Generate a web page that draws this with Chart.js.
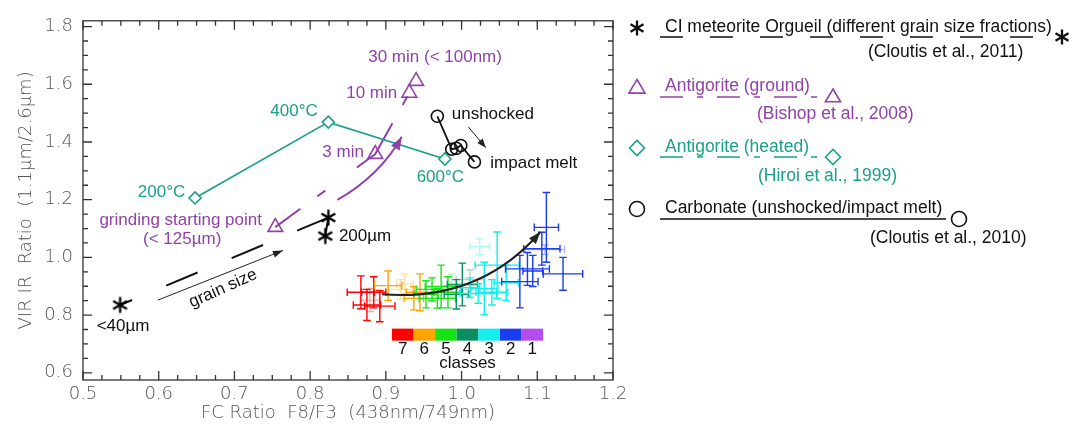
<!DOCTYPE html>
<html><head><meta charset="utf-8">
<script src="https://cdn.jsdelivr.net/npm/chart.js@4.4.1/dist/chart.umd.min.js"></script>
<style>html,body{margin:0;padding:0;background:#fff;}#wrap{width:1084px;height:425px;position:relative;}</style>
</head><body><div id="wrap"><canvas id="c" width="1084" height="425"></canvas></div>
<script>
// ---------- tick labels ----------
const xTicks = [0.5, 0.6, 0.7, 0.8, 0.9, 1.0, 1.1, 1.2];
const yTicks = [0.6, 0.8, 1.0, 1.2, 1.4, 1.6, 1.8];
// ---------- CI meteorite Orgueil (grain size fractions) ----------
const orgueilX = [0.549, 0.824, 0.820];
const orgueilY = [0.835, 1.138, 1.074];
// ---------- Antigorite (heated) ----------
const heatedX = [0.648, 0.824, 0.978];
const heatedY = [1.206, 1.469, 1.341];
// ---------- Antigorite (ground) ----------
const groundX = [0.754, 0.886, 0.931, 0.940];
const groundY = [1.105, 1.358, 1.570, 1.611];
// ---------- Carbonate (unshocked -> impact melt) ----------
const carbX = [0.968, 0.987, 0.993, 0.999, 1.017];
const carbY = [1.489, 1.375, 1.378, 1.388, 1.331];
// ---------- class cluster (values with x / y errors) ----------
const clsX    = [0.867,0.875,0.884,0.892,0.879, 0.903,0.919,0.945,0.937,0.925, 0.953,0.961,0.973,0.982,0.968,0.987, 1.001,0.993,1.011, 1.047,1.030,1.040,1.022,1.059,1.024,1.011, 1.112,1.106,1.134,1.077,1.087,1.094,1.110];
const clsY    = [0.879,0.835,0.879,0.831,0.852, 0.902,0.889,0.879,0.858,0.908, 0.872,0.889,0.899,0.879,0.858,0.902, 0.906,0.872,0.923, 0.973,0.892,0.879,0.875,0.912,1.037,0.895, 1.104,1.030,0.943,0.916,0.960,0.953,1.027];
const clsXErr = [0.018,0.018,0.016,0.020,0.013, 0.018,0.016,0.018,0.013,0.011, 0.016,0.021,0.021,0.018,0.024,0.013, 0.020,0.016,0.018, 0.029,0.018,0.021,0.024,0.016,0.013,0.013, 0.016,0.024,0.026,0.024,0.029,0.013,0.026];
const clsYErr = [0.057,0.054,0.054,0.054,0.040, 0.051,0.034,0.064,0.040,0.034, 0.047,0.040,0.074,0.054,0.034,0.040, 0.074,0.051,0.034, 0.115,0.091,0.044,0.034,0.061,0.027,0.034, 0.121,0.057,0.057,0.091,0.057,0.054,0.017];
const clsClass= [7,7,7,7,7, 6,6,6,6,6, 5,5,5,5,5,5, 4,4,4, 3,3,3,3,3,3,3, 2,2,2,2,2,2,2];
const clsFaded= [0,0,0,0,1, 0,1,0,0,1, 0,0,0,0,0,1, 0,0,1, 0,0,0,0,0,1,0, 0,0,0,0,0,0,1];
const classNames = ['7','6','5','4','3','2','1'];

// ---------- styles ----------
const TEAL = '#19a08c', PURPLE = '#9142aa', BLACK = '#111';
const CLASS_COLORS = {7:'#ff0000',6:'#ffa500',5:'#14e414',4:'#0b8f62',3:'#14eeee',2:'#1a3cf2',1:'#b44cf0'};
const SANS = '"Liberation Sans", Arial, sans-serif';
const AXF = '"DejaVu Sans", sans-serif';

function makeStar(r, lw, color) {
  const s = Math.ceil(2 * r + lw + 2);
  const c = document.createElement('canvas'); c.width = s; c.height = s;
  const g = c.getContext('2d'); g.strokeStyle = color; g.lineWidth = lw; g.translate(s / 2, s / 2);
  for (const a of [90, 30, 150]) {
    const t = a * Math.PI / 180;
    g.beginPath(); g.moveTo(-r * Math.cos(t), -r * Math.sin(t)); g.lineTo(r * Math.cos(t), r * Math.sin(t)); g.stroke();
  }
  return c;
}
const starImg = makeStar(8, 2.3, '#000');

function pts(xs, ys) { return xs.map((x, i) => ({x, y: ys[i]})); }

function arrowHead(ctx, x, y, ang, len, wid, color) {
  ctx.save(); ctx.translate(x, y); ctx.rotate(ang);
  ctx.beginPath(); ctx.moveTo(0, 0); ctx.lineTo(-len, -wid / 2); ctx.lineTo(-len, wid / 2); ctx.closePath();
  ctx.fillStyle = color; ctx.fill(); ctx.restore();
}

// annotations in data coordinates
const labels = [
  {t:'30 min (< 100nm)', x:0.965, y:1.692, a:'center', c:PURPLE},
  {t:'10 min', x:0.915, y:1.570, a:'right', c:PURPLE},
  {t:'3 min', x:0.871, y:1.364, a:'right', c:PURPLE},
  {t:'400°C', x:0.810, y:1.506, a:'right', c:TEAL},
  {t:'200°C', x:0.635, y:1.226, a:'right', c:TEAL},
  {t:'600°C', x:0.972, y:1.277, a:'center', c:TEAL},
  {t:'grinding starting point', x:0.629, y:1.128, a:'center', c:PURPLE},
  {t:'(< 125µm)', x:0.631, y:1.064, a:'center', c:PURPLE},
  {t:'unshocked', x:0.987, y:1.496, a:'left', c:BLACK},
  {t:'impact melt', x:1.038, y:1.327, a:'left', c:BLACK},
  {t:'<40µm', x:0.518, y:0.761, a:'left', c:BLACK},
  {t:'200µm', x:0.838, y:1.074, a:'left', c:BLACK},
  {t:'grain size', x:0.685, y:0.892, a:'center', c:BLACK, rot:-24}
];
const grainArrow = {x0:0.599, y0:0.852, x1:0.764, y1:1.024};
const carbArrow = {x0:1.009, y0:1.452, x1:1.032, y1:1.380};
const grindCurve = {x0:0.836, y0:1.199, cx:0.892, cy:1.283, x1:0.921, y1:1.418};
const clusterCurve = {x0:0.895, y0:0.872, cx:1.024, cy:0.845, x1:1.104, y1:1.088};
const colorBar = {x:0.908, y:0.753};

const framePlugin = {
  id: 'frame',
  afterDraw(chart) {
    const {ctx, chartArea: a, scales: {x, y}} = chart;
    ctx.save();
    ctx.strokeStyle = '#333'; ctx.lineWidth = 1.3;
    ctx.strokeRect(a.left, a.top, a.right - a.left, a.bottom - a.top);
    ctx.beginPath();
    for (let i = 0; i <= 28; i++) {
      const v = 0.5 + i * 0.025, px = x.getPixelForValue(v), L = (i % 4 === 0) ? 9 : 5;
      ctx.moveTo(px, a.bottom); ctx.lineTo(px, a.bottom - L);
      ctx.moveTo(px, a.top); ctx.lineTo(px, a.top + L);
    }
    for (let i = 0; i <= 24; i++) {
      const v = 0.6 + i * 0.05, py = y.getPixelForValue(v), L = (i % 4 === 0) ? 9 : 5;
      ctx.moveTo(a.left, py); ctx.lineTo(a.left + L, py);
      ctx.moveTo(a.right, py); ctx.lineTo(a.right - L, py);
    }
    ctx.stroke();
    ctx.restore();
  }
};

const errPlugin = {
  id: 'errbars',
  beforeDatasetsDraw(chart) {
    const {ctx, scales: {x, y}} = chart;
    ctx.save(); ctx.lineWidth = 1.4;
    for (let i = 0; i < clsX.length; i++) {
      ctx.globalAlpha = clsFaded[i] ? 0.35 : 1;
      ctx.strokeStyle = CLASS_COLORS[clsClass[i]];
      const cx = x.getPixelForValue(clsX[i]), cy = y.getPixelForValue(clsY[i]);
      const xl = x.getPixelForValue(clsX[i] - clsXErr[i]), xr = x.getPixelForValue(clsX[i] + clsXErr[i]);
      const yt = y.getPixelForValue(clsY[i] + clsYErr[i]), yb = y.getPixelForValue(clsY[i] - clsYErr[i]);
      const c = 3.8;
      ctx.beginPath();
      ctx.moveTo(xl, cy); ctx.lineTo(xr, cy);
      ctx.moveTo(xl, cy - c); ctx.lineTo(xl, cy + c);
      ctx.moveTo(xr, cy - c); ctx.lineTo(xr, cy + c);
      ctx.moveTo(cx, yt); ctx.lineTo(cx, yb);
      ctx.moveTo(cx - c, yt); ctx.lineTo(cx + c, yt);
      ctx.moveTo(cx - c, yb); ctx.lineTo(cx + c, yb);
      ctx.stroke();
    }
    ctx.globalAlpha = 1;
    // cluster trend arrow
    const q = clusterCurve;
    const p0 = [x.getPixelForValue(q.x0), y.getPixelForValue(q.y0)], pc = [x.getPixelForValue(q.cx), y.getPixelForValue(q.cy)], p1 = [x.getPixelForValue(q.x1), y.getPixelForValue(q.y1)];
    ctx.strokeStyle = '#222'; ctx.lineWidth = 2;
    ctx.beginPath(); ctx.moveTo(p0[0], p0[1]); ctx.quadraticCurveTo(pc[0], pc[1], p1[0], p1[1]); ctx.stroke();
    arrowHead(ctx, p1[0], p1[1], Math.atan2(p1[1] - pc[1], p1[0] - pc[0]), 12, 9, '#222');
    // colour bar
    const bx = x.getPixelForValue(colorBar.x), by = y.getPixelForValue(colorBar.y), bw = 21.6, bh = 12;
    const order = [7, 6, 5, 4, 3, 2, 1];
    ctx.font = '17px ' + SANS; ctx.fillStyle = '#111'; ctx.textAlign = 'center'; ctx.textBaseline = 'middle';
    order.forEach((k, j) => {
      ctx.fillStyle = CLASS_COLORS[k]; ctx.fillRect(bx + j * bw, by, bw, bh);
      ctx.fillStyle = '#111'; ctx.fillText(classNames[j], bx + j * bw + bw / 2, by + bh + 9);
    });
    ctx.fillText('classes', bx + 3.5 * bw, by + bh + 23);
    ctx.restore();
  },
  afterDatasetsDraw(chart) {
    const {ctx, scales: {x, y}} = chart;
    ctx.save();
    // grain size arrow
    let g = grainArrow;
    let a0 = [x.getPixelForValue(g.x0), y.getPixelForValue(g.y0)], a1 = [x.getPixelForValue(g.x1), y.getPixelForValue(g.y1)];
    ctx.strokeStyle = '#222'; ctx.lineWidth = 1;
    ctx.beginPath(); ctx.moveTo(a0[0], a0[1]); ctx.lineTo(a1[0], a1[1]); ctx.stroke();
    arrowHead(ctx, a1[0], a1[1], Math.atan2(a1[1] - a0[1], a1[0] - a0[0]), 10, 7, '#222');
    g = carbArrow;
    a0 = [x.getPixelForValue(g.x0), y.getPixelForValue(g.y0)]; a1 = [x.getPixelForValue(g.x1), y.getPixelForValue(g.y1)];
    ctx.beginPath(); ctx.moveTo(a0[0], a0[1]); ctx.lineTo(a1[0], a1[1]); ctx.stroke();
    arrowHead(ctx, a1[0], a1[1], Math.atan2(a1[1] - a0[1], a1[0] - a0[0]), 9, 7, '#222');
    // grinding curve arrow
    const q = grindCurve;
    const p0 = [x.getPixelForValue(q.x0), y.getPixelForValue(q.y0)], pc = [x.getPixelForValue(q.cx), y.getPixelForValue(q.cy)], p1 = [x.getPixelForValue(q.x1), y.getPixelForValue(q.y1)];
    ctx.strokeStyle = PURPLE; ctx.lineWidth = 2;
    ctx.beginPath(); ctx.moveTo(p0[0], p0[1]); ctx.quadraticCurveTo(pc[0], pc[1], p1[0], p1[1]); ctx.stroke();
    arrowHead(ctx, p1[0], p1[1], Math.atan2(p1[1] - pc[1], p1[0] - pc[0]), 13, 10, PURPLE);
    // labels
    ctx.font = '17px ' + SANS; ctx.textBaseline = 'middle';
    for (const l of labels) {
      ctx.save();
      ctx.translate(x.getPixelForValue(l.x), y.getPixelForValue(l.y));
      if (l.rot) ctx.rotate(l.rot * Math.PI / 180);
      ctx.fillStyle = l.c; ctx.textAlign = l.a; ctx.fillText(l.t, 0, 0);
      ctx.restore();
    }
    ctx.restore();
  }
};

function drawMarker(ctx, type, x, y, s, color) {
  ctx.save(); ctx.strokeStyle = color; ctx.lineWidth = 1.6; ctx.beginPath();
  if (type === 'star') {
    for (const a of [90, 30, 150]) { const t = a * Math.PI / 180; ctx.moveTo(x - s * Math.cos(t), y - s * Math.sin(t)); ctx.lineTo(x + s * Math.cos(t), y + s * Math.sin(t)); }
    ctx.lineWidth = 2.3;
  } else if (type === 'tri') {
    ctx.moveTo(x, y - s); ctx.lineTo(x + s * 0.95, y + s * 0.6); ctx.lineTo(x - s * 0.95, y + s * 0.6); ctx.closePath();
  } else if (type === 'dia') {
    ctx.moveTo(x - s, y); ctx.lineTo(x, y - s); ctx.lineTo(x + s, y); ctx.lineTo(x, y + s); ctx.closePath();
  } else {
    ctx.arc(x, y, s, 0, Math.PI * 2);
  }
  ctx.stroke(); ctx.restore();
}

const legendRows = [
  {m:'star', c:BLACK, t1:'CI meteorite Orgueil (different grain size fractions)', t2:'(Cloutis et al., 2011)', y:27, y2:52, x2:868, ul:[660, 1040, 37], dash:[23, 27], me:[1062, 37]},
  {m:'tri', c:PURPLE, t1:'Antigorite (ground)', t2:'(Bishop et al., 2008)', y:86, y2:114, x2:757, ul:[660, 818, 97], dash:[23, 14, 6, 14], me:[833, 97]},
  {m:'dia', c:TEAL, t1:'Antigorite (heated)', t2:'(Hiroi et al., 1999)', y:147, y2:176, x2:758, ul:[660, 818, 157], dash:[23, 14, 6, 14], me:[833, 157]},
  {m:'circ', c:BLACK, t1:'Carbonate (unshocked/impact melt)', t2:'(Cloutis et al., 2010)', y:208, y2:238, x2:870, ul:[660, 946, 219], dash:[], me:[959, 219]}
];
const legendPlugin = {
  id: 'sideLegend',
  afterDraw(chart) {
    const ctx = chart.ctx;
    ctx.save();
    ctx.font = '17.5px ' + SANS; ctx.textBaseline = 'middle'; ctx.textAlign = 'left';
    for (const r of legendRows) {
      const sz = r.m === 'tri' ? 8.5 : 7.5;
      drawMarker(ctx, r.m, 637, r.y + (r.m === 'tri' ? 2 : 1), sz, r.c);
      ctx.fillStyle = r.c;
      ctx.fillText(r.t1, 665, r.y);
      ctx.fillText(r.t2, r.x2, r.y2);
      ctx.strokeStyle = r.c; ctx.lineWidth = 1.3; ctx.setLineDash(r.dash);
      ctx.beginPath(); ctx.moveTo(r.ul[0], r.ul[2]); ctx.lineTo(r.ul[1], r.ul[2]); ctx.stroke();
      ctx.setLineDash([]);
      drawMarker(ctx, r.m, r.me[0], r.me[1], r.m === 'tri' ? 8 : 7.5, r.c);
    }
    ctx.restore();
  }
};

const ctx = document.getElementById('c').getContext('2d');
new Chart(ctx, {
  type: 'scatter',
  data: {
    datasets: [
      {
        label: 'CI meteorite Orgueil', data: pts(orgueilX, orgueilY), showLine: true,
        borderColor: BLACK, borderWidth: 2, pointStyle: starImg, pointRadius: 8,
        segment: {
          borderDash: c => c.p0DataIndex === 0 ? [34, 37] : [],
          borderDashOffset: c => c.p0DataIndex === 0 ? 21 : 0
        }
      },
      {
        label: 'Antigorite (heated)', data: pts(heatedX, heatedY), showLine: true,
        borderColor: TEAL, borderWidth: 1.7, pointStyle: 'rectRot', pointRadius: 6,
        pointBackgroundColor: '#fff', pointBorderColor: TEAL, pointBorderWidth: 1.6
      },
      {
        label: 'Antigorite (ground)', data: pts(groundX, groundY), showLine: true,
        borderColor: PURPLE, borderWidth: 2, borderDash: [58, 21, 10, 39], borderDashOffset: 27,
        pointStyle: 'triangle', pointRadius: 8.5,
        pointBackgroundColor: 'rgba(255,255,255,0)', pointBorderColor: PURPLE, pointBorderWidth: 1.6
      },
      {
        label: 'Carbonate', data: pts(carbX, carbY), showLine: true,
        borderColor: BLACK, borderWidth: 1.8, pointStyle: 'circle', pointRadius: 6,
        pointBackgroundColor: 'rgba(255,255,255,0)', pointBorderColor: BLACK, pointBorderWidth: 1.6
      },
      {
        label: 'classes', data: pts(clsX, clsY), showLine: false, pointRadius: 0
      }
    ]
  },
  options: {
    responsive: false, animation: false, devicePixelRatio: 1,
    layout: {padding: {left: 0, right: 471, top: 11, bottom: 0}},
    plugins: {legend: {display: false}, tooltip: {enabled: false}},
    scales: {
      x: {
        type: 'linear', min: 0.5, max: 1.2,
        afterBuildTicks: s => { s.ticks = xTicks.map(v => ({value: v})); },
        afterFit: s => { s.height = 45; },
        grid: {display: false, drawTicks: false}, border: {display: false},
        ticks: {padding: 4, color: '#555', font: {family: AXF, size: 18, weight: '200'}, maxRotation: 0, autoSkip: false, callback: v => Number(v).toFixed(1)},
        title: {display: true, text: 'FC Ratio  F8/F3  (438nm/749nm)', color: '#555', font: {family: AXF, size: 18, weight: '200'}, padding: {top: 0, bottom: 1}}
      },
      y: {
        type: 'linear', min: 0.575, max: 1.82,
        afterBuildTicks: s => { s.ticks = yTicks.map(v => ({value: v})); },
        afterFit: s => { s.width = 83; },
        grid: {display: false, drawTicks: false}, border: {display: false},
        ticks: {padding: 10, color: '#555', font: {family: AXF, size: 18, weight: '200'}, autoSkip: false, callback: v => Number(v).toFixed(1)},
        title: {display: true, text: 'VIR IR  Ratio  (1.1μm/2.6μm)', color: '#555', font: {family: AXF, size: 18, weight: '200'}, padding: {top: 16, bottom: 0}}
      }
    }
  },
  plugins: [framePlugin, errPlugin, legendPlugin]
});
</script></body></html>
